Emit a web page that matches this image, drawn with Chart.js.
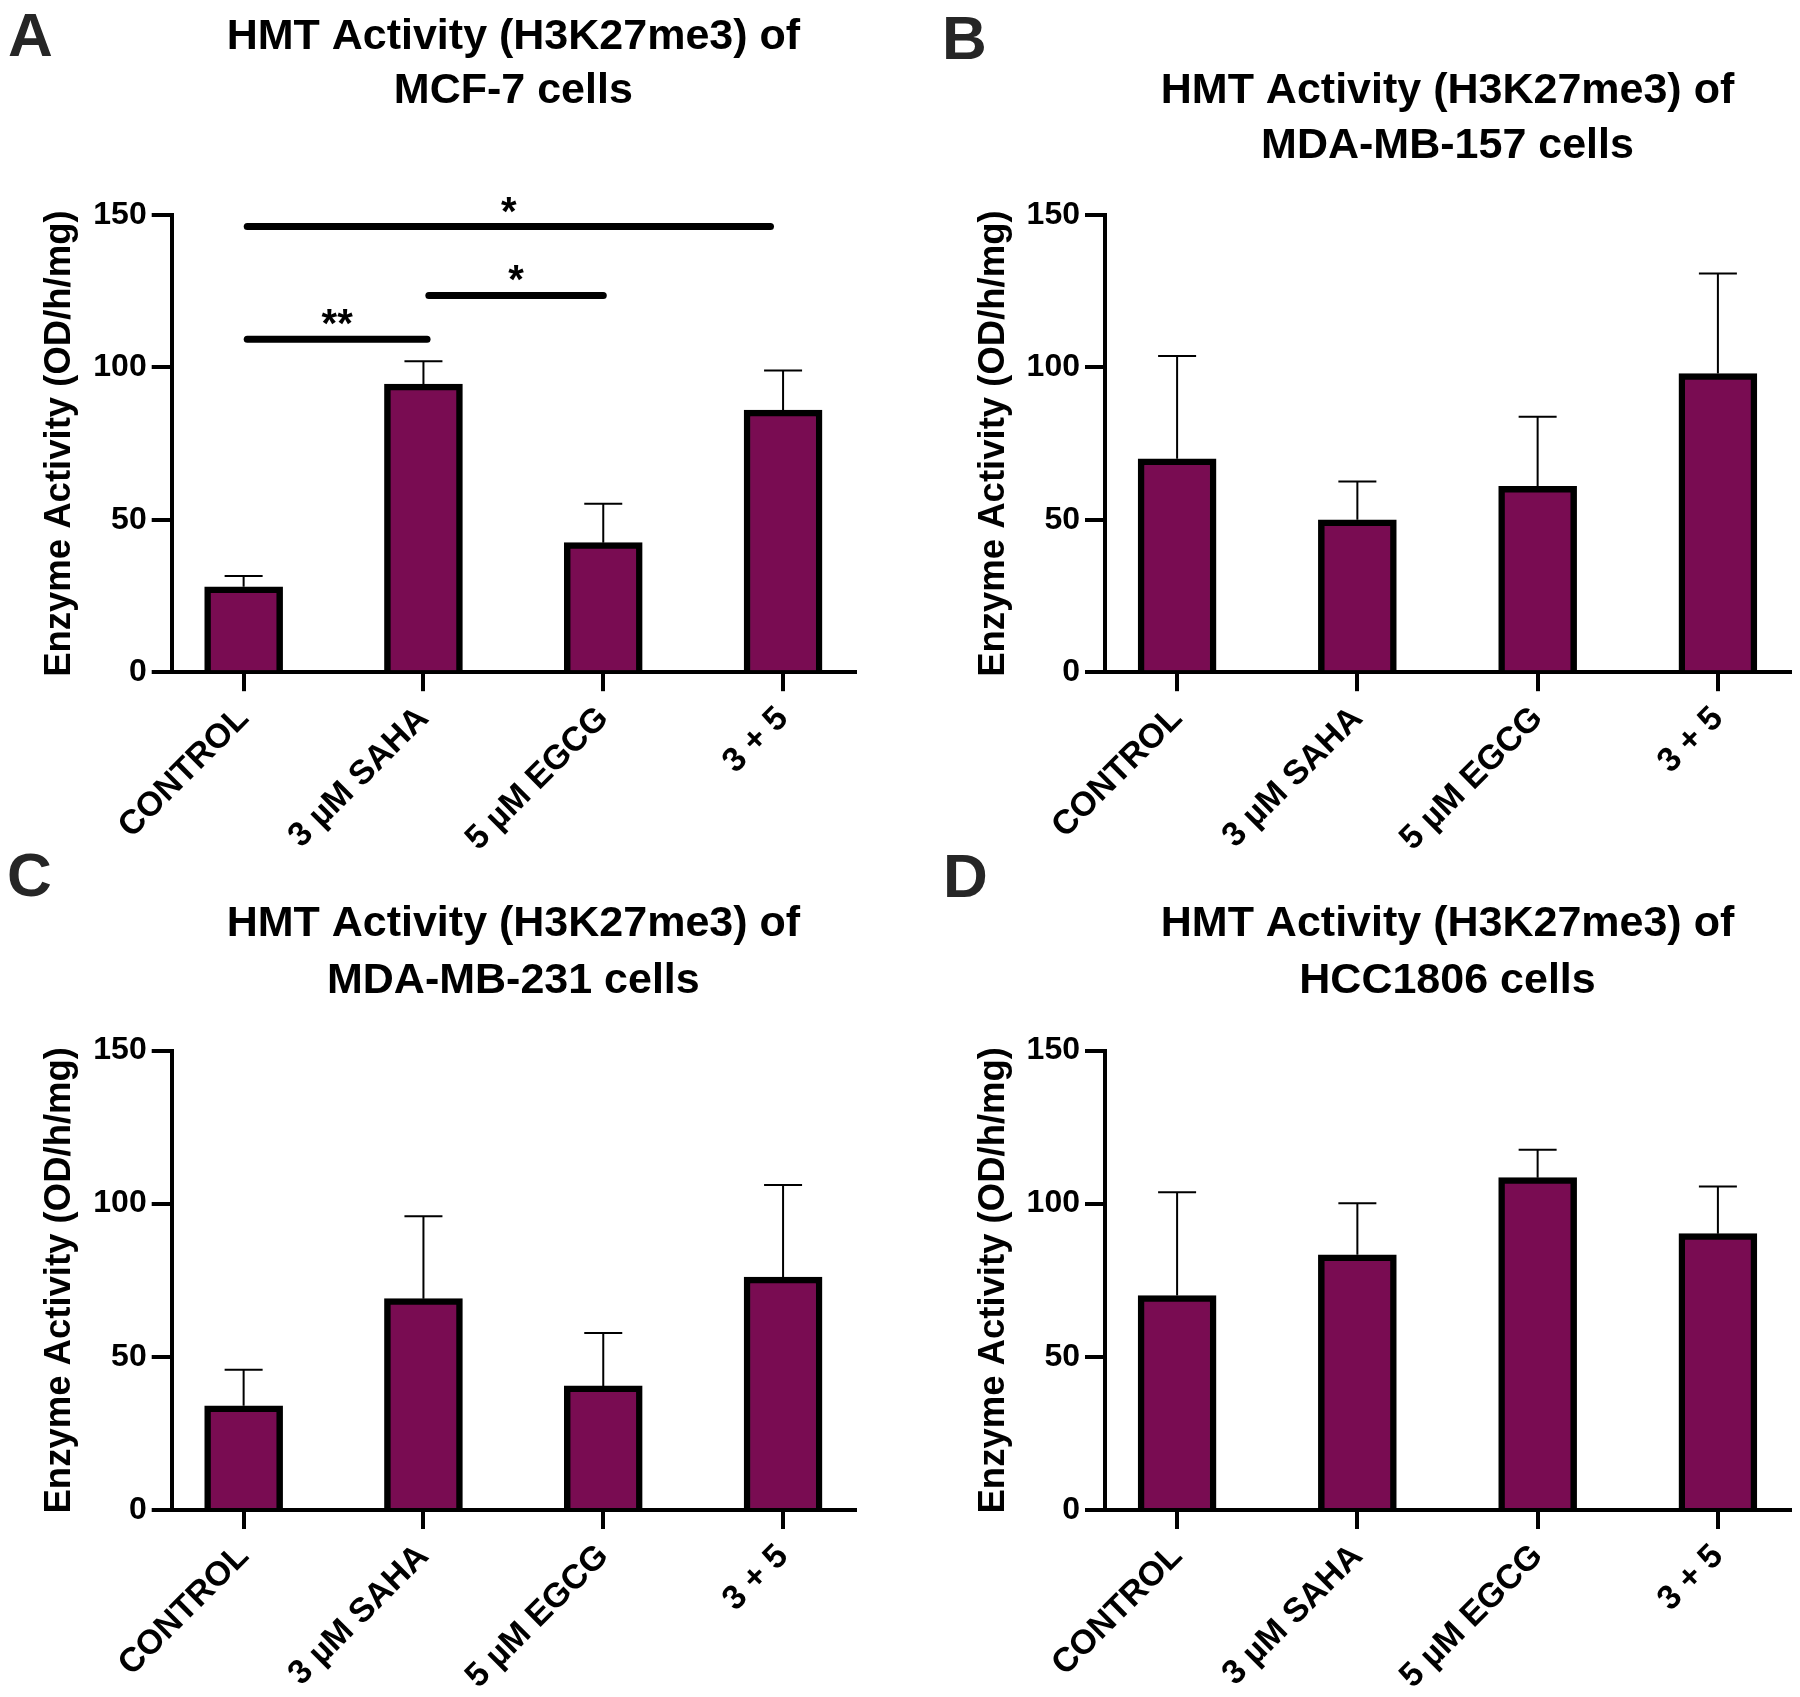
<!DOCTYPE html>
<html>
<head>
<meta charset="utf-8">
<script src="https://cdn.jsdelivr.net/npm/chart.js@4.4.1/dist/chart.umd.min.js"></script>
<style>
  body { margin: 0; background: #fff; width: 1800px; height: 1697px; position: relative; overflow: hidden; }
  canvas { position: absolute; }
  .tag { position: absolute; font-family: "Liberation Sans", Arial, sans-serif; font-weight: bold; font-size: 62px; line-height: 1; color: #262626; }
</style>
</head>
<body>
<div class="tag" style="left:8px;top:4px">A</div>
<div class="tag" style="left:942px;top:7px">B</div>
<div class="tag" style="left:7px;top:844px">C</div>
<div class="tag" style="left:943px;top:845px">D</div>

<canvas id="chartA" width="900" height="848" style="left:0;top:0"></canvas>
<canvas id="chartB" width="900" height="848" style="left:900px;top:0"></canvas>
<canvas id="chartC" width="900" height="849" style="left:0;top:848px"></canvas>
<canvas id="chartD" width="900" height="849" style="left:900px;top:848px"></canvas>

<script>
const categories = ['CONTROL', '3 µM SAHA', '5 µM EGCG', '3 + 5'];
const yTicks = [0, 50, 100, 150];
const yTitle = 'Enzyme Activity (OD/h/mg)';

const titleA = ['HMT Activity (H3K27me3) of', 'MCF-7 cells'];
const titleB = ['HMT Activity (H3K27me3) of', 'MDA-MB-157 cells'];
const titleC = ['HMT Activity (H3K27me3) of', 'MDA-MB-231 cells'];
const titleD = ['HMT Activity (H3K27me3) of', 'HCC1806 cells'];

// mean and SEM per group
const meanA = [28, 94.5, 42.5, 86];
const semA = [3.6, 7.5, 12.8, 13];
const meanB = [70, 50, 61, 98];
const semB = [33.7, 12.6, 22.8, 32.8];
const meanC = [34, 69, 40.5, 76];
const semC = [11.8, 26.9, 17.3, 30.1];
const meanD = [70, 83.3, 108.5, 90.2];
const semD = [33.7, 16.8, 9.1, 15.4];

// significance brackets for MCF-7 (group index from/to, level, label)
const sigFrom = [0.02, 1.03, 0.02];
const sigTo = [1.02, 2.0, 2.93];
const sigLevel = [109.2, 123.6, 146.2];
const sigText = ['**', '*', '*'];

const FONT = '"Liberation Sans", Arial, Helvetica, sans-serif';
const barColor = '#790C52';

const errorBars = {
    id: 'errorBars',
    afterDatasetsDraw(chart, args, opts) {
        const {ctx, scales: {x, y}} = chart;
        const data = chart.data.datasets[0].data;
        ctx.save();
        ctx.strokeStyle = '#000';
        ctx.lineWidth = 2;
        data.forEach((pt, i) => {
            const px = x.getPixelForValue(pt.x);
            const base = y.getPixelForValue(pt.y);
            const top = y.getPixelForValue(pt.y + opts.sem[i]);
            ctx.beginPath();
            ctx.moveTo(px, base);
            ctx.lineTo(px, top);
            ctx.moveTo(px - 19, top);
            ctx.lineTo(px + 19, top);
            ctx.stroke();
        });
        ctx.restore();
    }
};

const sigBars = {
    id: 'sigBars',
    afterDraw(chart, args, opts) {
        if (!opts.from) return;
        const {ctx, scales: {x, y}} = chart;
        ctx.save();
        ctx.strokeStyle = '#000';
        ctx.fillStyle = '#000';
        ctx.lineWidth = 7;
        ctx.lineCap = 'round';
        ctx.font = 'bold 40px ' + FONT;
        ctx.textAlign = 'center';
        ctx.textBaseline = 'alphabetic';
        opts.from.forEach((f, i) => {
            const x1 = x.getPixelForValue(f);
            const x2 = x.getPixelForValue(opts.to[i]);
            const py = y.getPixelForValue(opts.level[i]);
            ctx.beginPath();
            ctx.moveTo(x1, py);
            ctx.lineTo(x2, py);
            ctx.stroke();
            ctx.fillText(opts.text[i], (x1 + x2) / 2, py - 2);
        });
        ctx.restore();
    }
};

const panelTitle = {
    id: 'panelTitle',
    afterDraw(chart, args, opts) {
        const {ctx, chartArea} = chart;
        const cx = (chartArea.left + chartArea.right) / 2;
        ctx.save();
        ctx.fillStyle = '#000';
        ctx.font = 'bold 43px ' + FONT;
        ctx.textAlign = 'center';
        ctx.textBaseline = 'middle';
        opts.lines.forEach((t, i) => ctx.fillText(t, cx, opts.y[i]));
        ctx.restore();
    }
};

const makeChart = (id, mean, sem, title, box, sig) => {
    const data = {
        datasets: [{
            data: mean.map((v, i) => ({ x: i, y: v })),
            backgroundColor: barColor,
            borderColor: '#000',
            borderWidth: 6.5,
            barThickness: 78
        }]
    };

    const options = {
        responsive: false,
        animation: false,
        layout: { padding: { top: box.top, right: box.right, left: 0, bottom: 0 } },
        plugins: {
            legend: { display: false },
            tooltip: { enabled: false },
            errorBars: { sem },
            sigBars: sig || {},
            panelTitle: { lines: title, y: box.titleY }
        },
        scales: {
            x: {
                type: 'linear',
                bounds: 'data',
                offset: false,
                min: -0.4,
                max: 3.4,
                afterBuildTicks: s => { s.ticks = categories.map((c, i) => ({ value: i })); },
                afterFit: s => { s.height = box.xh; },
                grid: { offset: false, drawOnChartArea: false, tickLength: 19, color: '#000', lineWidth: 4 },
                border: { color: '#000', width: 4 },
                ticks: {
                    callback: v => categories[v],
                    autoSkip: false,
                    minRotation: 45,
                    maxRotation: 45,
                    padding: 22,
                    color: '#000',
                    font: { family: FONT, size: 34, weight: 'bold', lineHeight: 0 }
                }
            },
            y: {
                min: 0,
                max: 150,
                afterBuildTicks: s => { s.ticks = yTicks.map(v => ({ value: v })); },
                afterFit: s => { s.width = box.yw; },
                grid: { drawOnChartArea: false, tickLength: 20, color: '#000', lineWidth: 4 },
                border: { color: '#000', width: 4 },
                ticks: {
                    padding: 5,
                    color: '#000',
                    font: { family: FONT, size: 32, weight: 'bold' }
                },
                title: {
                    display: true,
                    text: yTitle,
                    color: '#000',
                    font: { family: FONT, size: 36.5, weight: 'bold', lineHeight: 1 },
                    padding: { top: box.ytp, bottom: 0 }
                }
            }
        }
    };

    return new Chart(document.getElementById(id), {
        type: 'bar',
        data,
        options,
        plugins: [errorBars, sigBars, panelTitle]
    });
};

makeChart('chartA', meanA, semA, titleA,
    { top: 215, right: 45, yw: 171.7, xh: 175.8, ytp: 42, titleY: [37, 91] },
    { from: sigFrom, to: sigTo, level: sigLevel, text: sigText });
makeChart('chartB', meanB, semB, titleB,
    { top: 215, right: 10, yw: 205, xh: 175.8, ytp: 76, titleY: [91, 146.5] });
makeChart('chartC', meanC, semC, titleC,
    { top: 202.5, right: 45, yw: 171.7, xh: 187, ytp: 42, titleY: [76, 133] });
makeChart('chartD', meanD, semD, titleD,
    { top: 202.5, right: 10, yw: 205, xh: 187, ytp: 76, titleY: [76, 133] });
</script>
</body>
</html>
